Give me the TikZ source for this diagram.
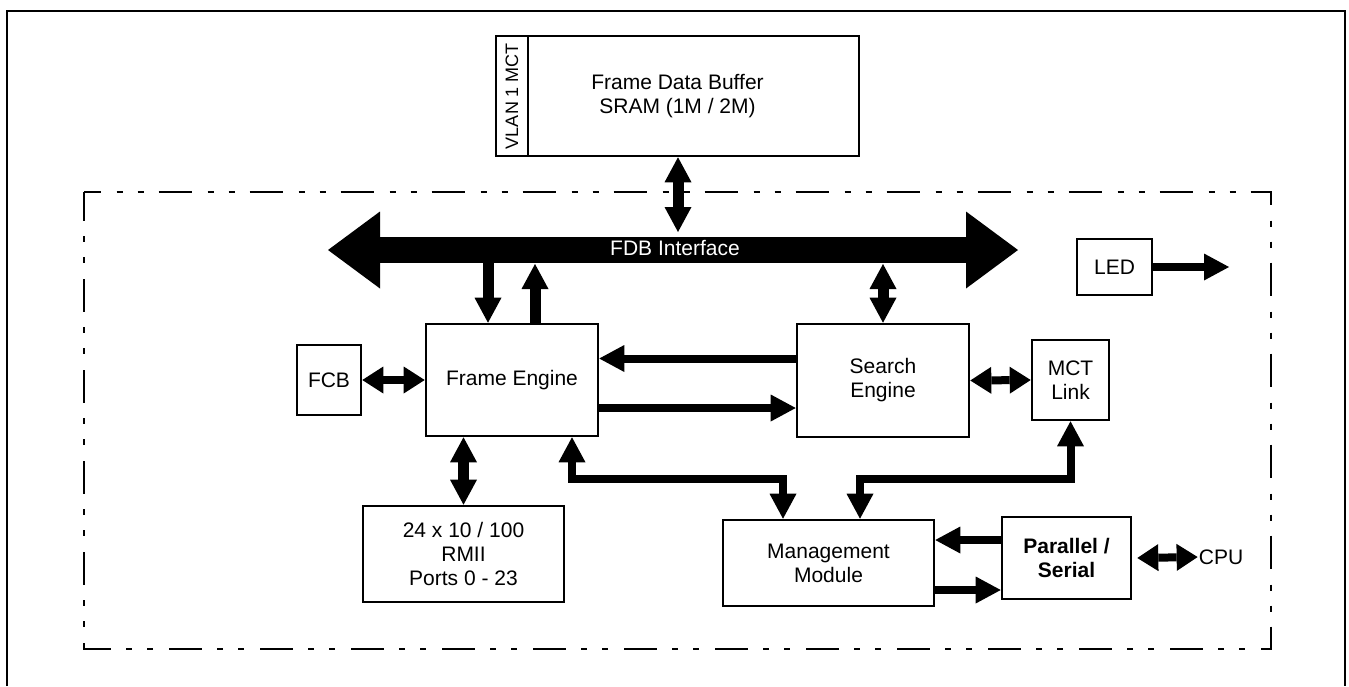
\documentclass[tikz,border=0pt]{standalone}
\usepackage{fontspec}
\setmainfont{Liberation Sans}
\usetikzlibrary{arrows.meta}
\newcommand{\blk}[5]{\node(#1)[blk,minimum width=#3,minimum height=#4] at (#2) {#5}}
\newcommand{\bustip}{Triangle[length=52pt,width=77pt,line width=0pt]}

\begin{document}
\begin{tikzpicture}[
        x=1pt, y=-1pt,
        every node/.style={font=\fontsize{21}{24}\selectfont},
        >={Triangle[length=25pt,width=27pt,line width=0pt]},
        blk/.style={rectangle,draw=black,line width=2.6pt,inner sep=0pt,align=center},
        fat/.style={line width=8pt,->},
        dfat/.style={line width=8pt,<->},
        sdfat/.style={line width=8pt,<->,>={Triangle[length=21pt,width=27pt,line width=0pt]}},
        vfat/.style={line width=11pt},
        chipline/.style={line width=2.4pt,
                     dash pattern=on 33pt off 16pt on 6pt off 15pt on 6pt off 15pt,
                     dash phase=16.5pt}
      ]
      \useasboundingbox (0,0) rectangle (1349,686);

      % Outer frame (its lower edge lies below the page)
      \draw[line width=2.6pt] (7,686) -- (7,11) -- (1345,11) -- (1345,686);

      % Chip boundary
      \draw[chipline] (84,192) -- (1271,192) -- (1271,649) -- (84,649) -- cycle;

      % External buffer with the VLAN strip on its left
      \blk{fdb}{677.5,96}{363pt}{120pt}{Frame Data Buffer\\SRAM (1M / 2M)};
      \node(vlan)[blk,minimum width=120pt,minimum height=32pt,rotate=90,
                  font=\fontsize{18}{20}\selectfont] at (512,96) {VLAN 1 MCT};

      % FDB bus
      \coordinate (busL) at (328,250);
      \coordinate (busR) at (1018,250);
      \draw[line width=26pt,{\bustip}-{\bustip}] (busL) -- (busR);
      \node(busname)[text=white] at (675,248) {FDB Interface};
      \coordinate (busT) at (678,232);
      \coordinate (busFEin) at (488,263);
      \coordinate (busFEout) at (535,264);
      \coordinate (busSE) at (883,264);

      % Blocks inside the chip
      \blk{led}{1114.5,267}{75pt}{56pt}{LED};
      \blk{fcb}{329,380}{64pt}{70pt}{FCB};
      \blk{fe}{512,380}{172pt}{112pt}{Frame Engine};
      \blk{se}{883,380.5}{172pt}{113pt}{Search\\Engine};
      \blk{mct}{1070.5,380}{77pt}{80pt}{MCT\\Link};
      \blk{ports}{463.5,554}{201pt}{96pt}{24 x 10 / 100\\RMII\\Ports 0 - 23};
      \blk{mm}{828.5,563}{211pt}{86pt}{Management\\Module};
      \blk{ps}{1066.5,558}{129pt}{82pt}{\bfseries Parallel /\\\bfseries Serial};
      \node(cpu)[inner sep=1pt] at (1221,557) {CPU};
      \coordinate (ledout) at (1229,267);

      % Bus connections
      \draw[vfat,<->] (fdb.south -| busT) -- (busT);
      \draw[vfat,->] (busFEin) -- (fe.north -| busFEin);
      \draw[vfat,->] (fe.north -| busFEout) -- (busFEout);
      \draw[vfat,<->] (busSE) -- (se.north);

      % Side links
      \draw[sdfat] (fcb.east) -- (fe.west);
      \draw[sdfat] (se.east) -- (mct.west);
      \draw[fat] ([yshift=22pt]se.west) -- ([yshift=22pt]se.west -| fe.east);
      \draw[fat] ([yshift=-28pt]fe.east) -- ([yshift=-28pt]fe.east -| se.west);
      \draw[vfat,<->] (fe.south -| ports.north) -- (ports.north);
      \draw[fat] (led.east) -- (ledout);

      % Management paths
      \draw[dfat] (mm.north -| 783,0) -- ++(0,-40) -| (fe.south -| 572,0);
      \draw[dfat] (mm.north -| 860,0) -- ++(0,-40) -| (mct.south);
      \draw[fat] ([yshift=18pt]ps.west) -- ([yshift=18pt]ps.west -| mm.east);
      \draw[fat] ([yshift=-27pt]mm.east) -- ([yshift=-27pt]mm.east -| ps.west);
      \draw[sdfat] ([xshift=5pt]ps.east) -- (cpu.west);
    \end{tikzpicture}
\end{document}
